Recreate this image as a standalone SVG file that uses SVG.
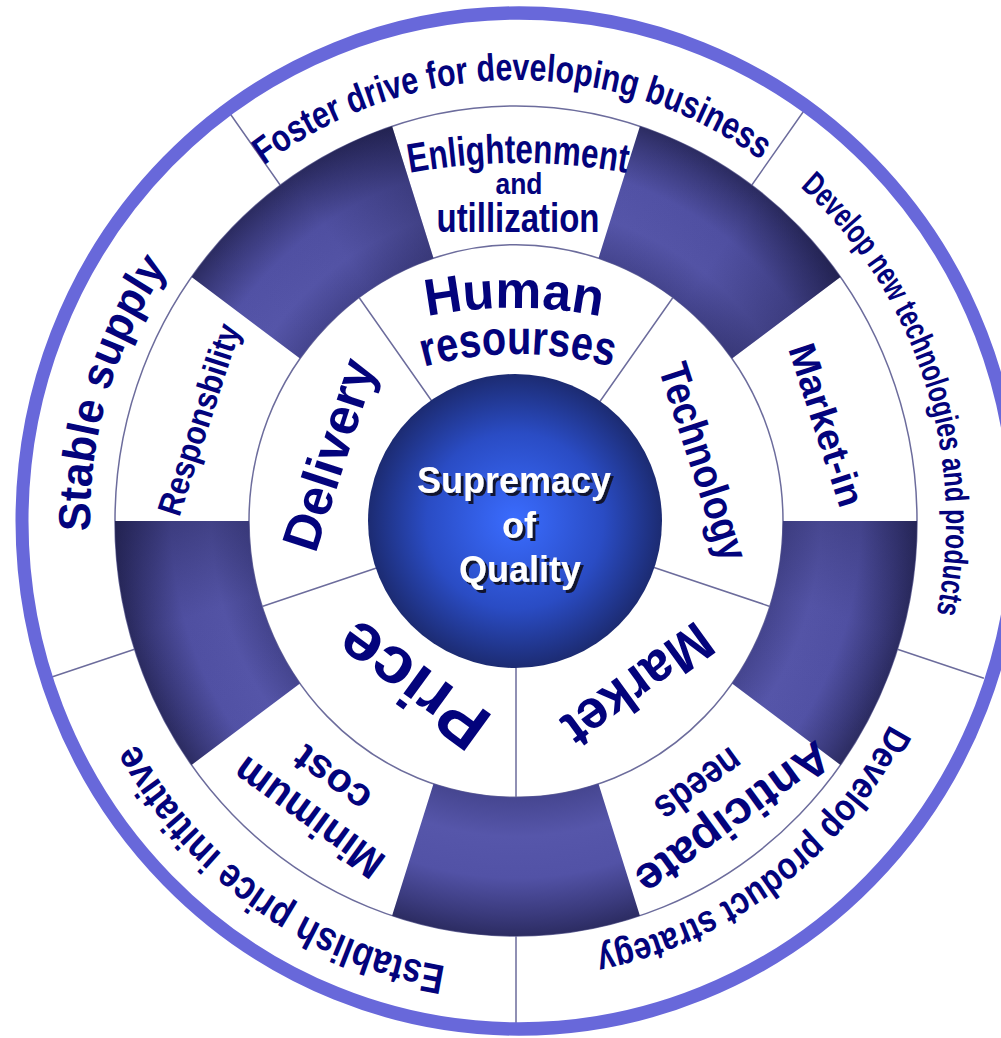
<svg xmlns="http://www.w3.org/2000/svg" width="1001" height="1038" viewBox="0 0 1001 1038">
<defs>
<style>
.t{font-family:"Liberation Sans",Arial,sans-serif;font-weight:bold;fill:#03037c}
.c{font-family:"Liberation Sans",Arial,sans-serif;font-weight:bold;font-size:36px;text-anchor:middle;fill:#ffffff}
.ln{stroke:#6c6c9c;stroke-width:1.5;fill:none}
.seg{fill:url(#dark)}
.sh{fill:url(#shade)}
.sh2{fill:url(#shade2)}
</style>
<filter id="ds" x="-10%" y="-10%" width="130%" height="140%">
<feDropShadow dx="3" dy="3" stdDeviation="0.5" flood-color="#0d0d1c" flood-opacity="0.9"/>
</filter>
<radialGradient id="dark" gradientUnits="userSpaceOnUse" cx="516" cy="521" r="401">
<stop offset="0.66" stop-color="#45458f"/>
<stop offset="0.76" stop-color="#5656aa"/>
<stop offset="0.86" stop-color="#5252a6"/>
<stop offset="0.95" stop-color="#3a3a7c"/>
<stop offset="1" stop-color="#2c2c62"/>
</radialGradient>
<linearGradient id="shade" gradientUnits="userSpaceOnUse" x1="392" y1="0" x2="640" y2="0">
<stop offset="0" stop-color="#15153a" stop-opacity="0"/>
<stop offset="0.55" stop-color="#15153a" stop-opacity="0.05"/>
<stop offset="1" stop-color="#15153a" stop-opacity="0.42"/>
</linearGradient>
<linearGradient id="shade2" gradientUnits="userSpaceOnUse" x1="640" y1="0" x2="392" y2="0">
<stop offset="0" stop-color="#15153a" stop-opacity="0"/>
<stop offset="0.55" stop-color="#15153a" stop-opacity="0.04"/>
<stop offset="1" stop-color="#15153a" stop-opacity="0.3"/>
</linearGradient>
<radialGradient id="core" cx="0.5" cy="0.5" r="0.5">
<stop offset="0" stop-color="#3a6cff"/>
<stop offset="0.6" stop-color="#2a4cc4"/>
<stop offset="1" stop-color="#1c2b72"/>
</radialGradient>
<path id="seg" d="M 392.08 139.62 A 401 401 0 0 1 639.92 139.62 L 598.51 267.07 A 267 267 0 0 0 433.49 267.07 Z"/>
<path id="r426" d="M 90 521 A 426 426 0 0 1 942 521"/>
<path id="r430" d="M 86 521 A 430 430 0 0 1 946 521"/>
<path id="r422" d="M 94 521 A 422 422 0 0 1 938 521"/>
<path id="r436" d="M 80 521 A 436 436 0 0 1 952 521"/>
<path id="arcE" d="M 218 243.4 A 600 600 0 0 1 818 243.4"/>
<path id="arcH" d="M 264 383.8 A 450 450 0 0 1 764 383.8"/>
<path id="arcR" d="M 268 459.1 A 350 350 0 0 1 768 459.1"/>
</defs>
<rect width="1001" height="1038" fill="#ffffff"/>
<g id="wheel" transform="matrix(1 0 0 1.035 0 -18.235)">
<g id="connectors">
<circle class="ln" cx="516" cy="521" r="267"/>
<circle class="ln" cx="516" cy="521" r="401"/>
<path class="ln" d="M 595.35 411.78 L 672.94 305 M 644.39 562.72 L 769.93 603.51 M 516 656 L 516 788 M 387.61 562.72 L 262.07 603.51 M 436.65 411.78 L 359.06 305"/>
<path class="ln" d="M 751.7 196.58 L 805.19 122.96 M 897.38 644.92 L 983.92 673.04 M 516 922 L 516 1013 M 134.62 644.92 L 48.08 673.04 M 280.3 196.58 L 226.81 122.96"/>
</g>
<g id="dark-segments">
<g transform="rotate(36 516 521)"><use href="#seg" class="seg"/><use href="#seg" class="sh"/></g>
<g transform="rotate(108 516 521)"><use href="#seg" class="seg"/><use href="#seg" class="sh2"/></g>
<g transform="rotate(180 516 521)"><use href="#seg" class="seg"/></g>
<g transform="rotate(252 516 521)"><use href="#seg" class="seg"/><use href="#seg" class="sh"/></g>
<g transform="rotate(324 516 521)"><use href="#seg" class="seg"/><use href="#seg" class="sh"/></g>
</g>
<ellipse id="ring" cx="519" cy="521" rx="497" ry="490.8" fill="none" stroke="#6868da" stroke-width="13"/>
<g id="outer-labels">
<g id="foster" transform="rotate(-0.6 516 521)"><text class="t" font-size="37" text-anchor="middle"><textPath href="#r426" startOffset="50%" textLength="531" lengthAdjust="spacingAndGlyphs">Foster drive for developing business</textPath></text></g>
<g id="devnew" transform="rotate(71.7 516 521)"><text class="t" font-size="33" text-anchor="middle"><textPath href="#r430" startOffset="50%" textLength="455" lengthAdjust="spacingAndGlyphs">Develop new technologies and products</textPath></text></g>
<g id="devprod" transform="rotate(143.4 516 521)"><text class="t" font-size="37" text-anchor="middle"><textPath href="#r422" startOffset="50%" textLength="379" lengthAdjust="spacingAndGlyphs">Develop product strategy</textPath></text></g>
<g id="establish" transform="rotate(214.9 516 521)"><text class="t" font-size="40" text-anchor="middle"><textPath href="#r436" startOffset="50%" textLength="390" lengthAdjust="spacingAndGlyphs">Establish price initiative</textPath></text></g>
<g id="stable" transform="rotate(286.9 516 521)"><text class="t" font-size="45" text-anchor="middle"><textPath href="#r426" startOffset="50%" textLength="271" lengthAdjust="spacingAndGlyphs">Stable supply</textPath></text></g>
</g>
</g>
<g id="core-node">
<circle cx="515" cy="521" r="147" fill="url(#core)"/>
<g filter="url(#ds)">
<text class="c" x="514" y="493">Supremacy</text>
<text class="c" x="519" y="538">of</text>
<text class="c" x="520" y="582">Quality</text>
</g>
</g>
<g id="middle-labels">
<g id="enlight">
<text class="t" font-size="41" text-anchor="middle"><textPath href="#arcE" startOffset="50%" textLength="218" lengthAdjust="spacingAndGlyphs">Enlightenment</textPath></text>
<text class="t" x="519" y="194" font-size="29" text-anchor="middle" textLength="47" lengthAdjust="spacingAndGlyphs">and</text>
<text class="t" x="518" y="232" font-size="41" text-anchor="middle" textLength="163" lengthAdjust="spacingAndGlyphs">utillization</text>
</g>
<text id="marketin" class="t" x="814" y="429" font-size="38" text-anchor="middle" textLength="169" lengthAdjust="spacingAndGlyphs" transform="rotate(72 814 429)">Market-in</text>
<g id="anticipate">
<text class="t" x="724" y="806" font-size="46" text-anchor="middle" textLength="228" lengthAdjust="spacingAndGlyphs" transform="rotate(144 724 806)">Anticipate</text>
<text class="t" x="691" y="774" font-size="40" text-anchor="middle" textLength="97" lengthAdjust="spacingAndGlyphs" transform="rotate(144 691 774)">needs</text>
</g>
<g id="minimum">
<text class="t" x="317" y="806" font-size="42" text-anchor="middle" textLength="175" lengthAdjust="spacingAndGlyphs" transform="rotate(216 317 806)">Minimum</text>
<text class="t" x="340" y="768" font-size="40" text-anchor="middle" textLength="85" lengthAdjust="spacingAndGlyphs" transform="rotate(216 340 768)">cost</text>
</g>
<text id="respons" class="t" x="210" y="423" font-size="34" text-anchor="middle" textLength="199" lengthAdjust="spacingAndGlyphs" transform="rotate(288 210 423)">Responsbility</text>
</g>
<g id="inner-labels">
<g id="human">
<text class="t" font-size="52" text-anchor="middle"><textPath href="#arcH" startOffset="50%" textLength="175" lengthAdjust="spacingAndGlyphs">Human</textPath></text>
<text class="t" font-size="48" text-anchor="middle"><textPath href="#arcR" startOffset="50%" textLength="190" lengthAdjust="spacingAndGlyphs">resourses</textPath></text>
</g>
<text id="technology" class="t" x="690" y="466" font-size="42" text-anchor="middle" textLength="205" lengthAdjust="spacingAndGlyphs" transform="rotate(72 690 466)">Technology</text>
<text id="market" class="t" x="627" y="670" font-size="55" text-anchor="middle" textLength="171" lengthAdjust="spacingAndGlyphs" transform="rotate(144 627 670)">Market</text>
<text id="price" class="t" x="426" y="667" font-size="66" text-anchor="middle" textLength="170" lengthAdjust="spacingAndGlyphs" transform="rotate(216 426 667)">Price</text>
<text id="delivery" class="t" x="346" y="460" font-size="52" text-anchor="middle" textLength="198" lengthAdjust="spacingAndGlyphs" transform="rotate(288 346 460)">Delivery</text>
</g>
</svg>
